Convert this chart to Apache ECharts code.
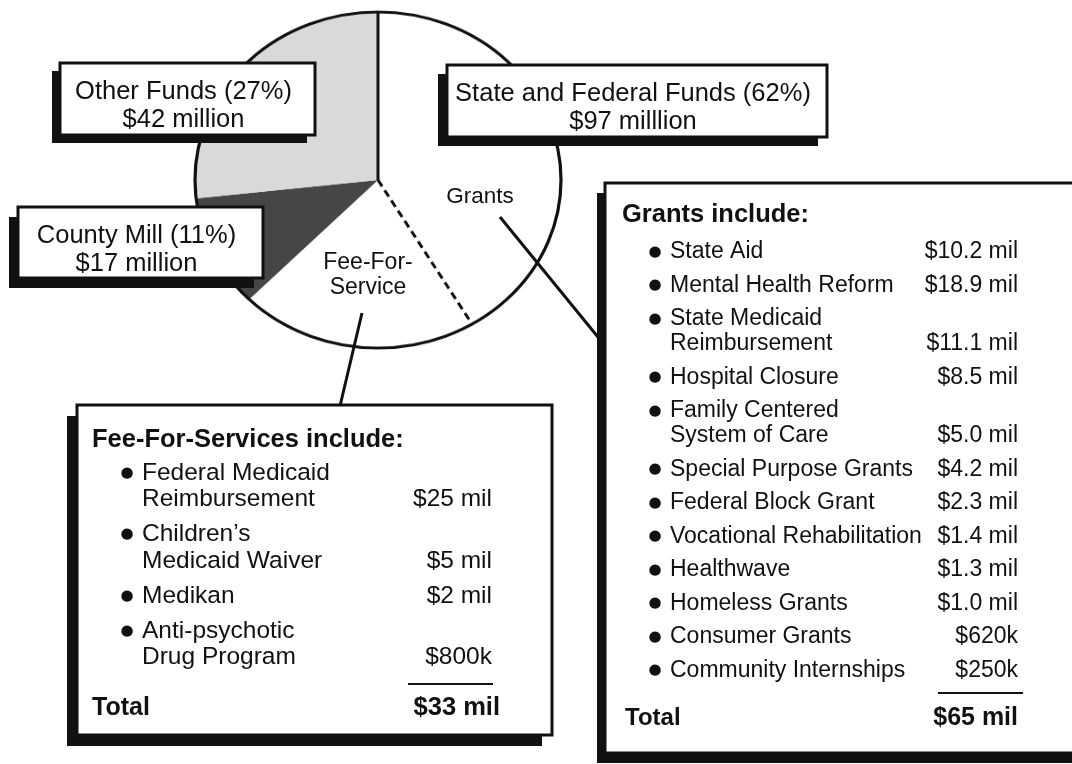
<!DOCTYPE html>
<html>
<head>
<meta charset="utf-8">
<script src="https://cdn.jsdelivr.net/npm/echarts@6/dist/echarts.min.js"></script>
<style>
  html, body { margin: 0; padding: 0; background: #fff; }
  #wrap { position: relative; width: 1072px; height: 764px; overflow: hidden; background: #fff; }
  #chart { position: absolute; left: 0; top: 0; width: 1072px; height: 764px; }
  /* the pie is drawn a little flatter than it is wide; the layer starts
     above the page so the top of the outline is not cut off */
  #pie {
    position: absolute; left: 0; top: -20px; width: 1072px; height: 784px;
    transform-origin: 0 200px; transform: scaleY(0.918);
  }
</style>
</head>
<body>
<div id="wrap">
  <div id="pie"></div>
  <div id="chart"></div>
</div>
<script>
// Funding sources (million dollars), drawn clockwise from 12 o'clock
const sliceNames = ['Grants', 'Fee-For-Service', 'County Mill', 'Other Funds'];
const sliceValues = [65, 33, 17, 42];

// Call-out boxes for the three funding groups
const groupTitles = ['State and Federal Funds (62%)', 'Other Funds (27%)', 'County Mill (11%)'];
const groupAmounts = ['$97 milllion', '$42 million', '$17 million'];

// Grants breakdown
const grantItems = [
  ['State Aid'], ['Mental Health Reform'], ['State Medicaid', 'Reimbursement'],
  ['Hospital Closure'], ['Family Centered', 'System of Care'], ['Special Purpose Grants'],
  ['Federal Block Grant'], ['Vocational Rehabilitation'], ['Healthwave'],
  ['Homeless Grants'], ['Consumer Grants'], ['Community Internships']
];
const grantAmounts = ['$10.2 mil', '$18.9 mil', '$11.1 mil', '$8.5 mil', '$5.0 mil', '$4.2 mil',
  '$2.3 mil', '$1.4 mil', '$1.3 mil', '$1.0 mil', '$620k', '$250k'];
const grantTotal = '$65 mil';

// Fee-for-service breakdown
const feeItems = [
  ['Federal Medicaid', 'Reimbursement'], ['Children\u2019s', 'Medicaid Waiver'],
  ['Medikan'], ['Anti-psychotic', 'Drug Program']
];
const feeAmounts = ['$25 mil', '$5 mil', '$2 mil', '$800k'];
const feeTotal = '$33 mil';

const sliceColors = ['#ffffff', '#ffffff', '#464646', '#d9d9d9'];
const FONT = '"Liberation Sans", Arial, Helvetica, sans-serif';
const INK = '#111';
const total = sliceValues.reduce((a, b) => a + b, 0);

// pie layer coordinates (layer is shifted 20px up)
const CX = 378, CY = 200, R = 183;

// ---------- pie layer ----------
const pie = echarts.init(document.getElementById('pie'), null, { renderer: 'canvas' });
pie.setOption({
  backgroundColor: 'transparent',
  animation: false,
  polar: { center: [CX, CY], radius: R },
  angleAxis: {
    type: 'value', min: 0, max: total, startAngle: 90, clockwise: true, z: 10,
    axisLine: { show: true, lineStyle: { color: INK, width: 3.2 } },
    axisTick: { show: false }, axisLabel: { show: false }, splitLine: { show: false }
  },
  radiusAxis: { type: 'value', min: 0, max: 1, show: false },
  series: [
    {
      type: 'pie', center: [CX, CY], radius: R, startAngle: 90, clockwise: true,
      label: { show: false }, labelLine: { show: false }, silent: true, z: 2,
      itemStyle: { borderWidth: 0 },
      data: sliceNames.map((n, i) => ({ name: n, value: sliceValues[i], itemStyle: { color: sliceColors[i] } }))
    },
    {
      // radius between Other Funds and Grants
      type: 'line', coordinateSystem: 'polar', symbol: 'none', z: 5, silent: true,
      lineStyle: { color: INK, width: 3 },
      data: [[0, 0], [1, 0]]
    },
    {
      // dashed radius between Grants and Fee-For-Service
      type: 'line', coordinateSystem: 'polar', symbol: 'none', z: 5, silent: true,
      lineStyle: { color: INK, width: 3, type: [8, 5] },
      data: [[0, sliceValues[0]], [1, sliceValues[0]]]
    }
  ]
});

// ---------- annotation layer ----------
function txt(text, x, y, size, align, bold, family) {
  return {
    type: 'text', z: 110,
    style: {
      text: text, x: x, y: y, fill: INK,
      font: (bold ? 'bold ' : '') + size + 'px ' + (family || FONT),
      textAlign: align, textVerticalAlign: 'middle',
      align: align, verticalAlign: 'middle'
    }
  };
}

function bullet(x, y) {
  return txt('\u25CF', x, y, 15, 'center', false, '"DejaVu Sans", sans-serif');
}

function box(x, y, w, h, dx, dy) {
  return [
    { type: 'rect', z: 100, shape: { x: x + dx, y: y + dy, width: w, height: h }, style: { fill: INK } },
    { type: 'rect', z: 101, shape: { x: x, y: y, width: w, height: h }, style: { fill: '#fff', stroke: INK, lineWidth: 3 } }
  ];
}

function line(x1, y1, x2, y2, w) {
  return { type: 'line', z: 105, shape: { x1: x1, y1: y1, x2: x2, y2: y2 }, style: { stroke: INK, lineWidth: w || 3 } };
}

const els = [];

// Group call-outs
const groupBoxes = [
  { x: 447, y: 65, w: 380, h: 72, dx: -9, dy: 9 },
  { x: 60, y: 63, w: 255, h: 72, dx: -8, dy: 8 },
  { x: 18, y: 207, w: 245, h: 71, dx: -9, dy: 10 }
];
groupBoxes.forEach((b, i) => {
  els.push(...box(b.x, b.y, b.w, b.h, b.dx, b.dy));
  const cx = b.x + b.w / 2 - 4;
  els.push(txt(groupTitles[i], cx, b.y + 29, 25.5, 'center'));
  els.push(txt(groupAmounts[i], cx, b.y + 57, 25.5, 'center'));
});

// Slice captions and leader lines
els.push(txt(sliceNames[0], 480, 197, 22.5, 'center'));
els.push(txt('Fee-For-', 368, 263, 23, 'center'));
els.push(txt('Service', 368, 288, 23, 'center'));
els.push(line(500, 217, 602, 342));
els.push(line(362, 313, 340, 406));

// Grants box
els.push(...box(605, 183, 490, 570, -8, 10));
els.push(txt('Grants include:', 622, 215, 25.5, 'left', true));
let gy = 252;
grantItems.forEach((lines, i) => {
  els.push(bullet(655, gy));
  lines.forEach((s, k) => els.push(txt(s, 670, gy + k * 25, 23, 'left')));
  els.push(txt(grantAmounts[i], 1018, gy + (lines.length - 1) * 25, 23, 'right'));
  gy += 33.5 + (lines.length - 1) * 25;
});
els.push(line(938, 693, 1023, 693, 2));
els.push(txt('Total', 625, 718, 24, 'left', true));
els.push(txt(grantTotal, 1018, 718, 25, 'right', true));

// Fee-for-service box
els.push(...box(77, 405, 475, 330, -10, 11));
els.push(txt('Fee-For-Services include:', 92, 440, 25.5, 'left', true));
let fy = 473;
feeItems.forEach((lines, i) => {
  els.push(bullet(127, fy));
  lines.forEach((s, k) => els.push(txt(s, 142, fy + k * 26.5, 24.5, 'left')));
  els.push(txt(feeAmounts[i], 492, fy + (lines.length - 1) * 26.5, 24.5, 'right'));
  fy += 35 + (lines.length - 1) * 26.5;
});
els.push(line(408, 684, 493, 684, 2));
els.push(txt('Total', 92, 708, 25, 'left', true));
els.push(txt(feeTotal, 500, 708, 25.5, 'right', true));

const chart = echarts.init(document.getElementById('chart'), null, { renderer: 'canvas' });
chart.setOption({
  backgroundColor: 'transparent',
  animation: false,
  graphic: { elements: els }
});
</script>
</body>
</html>
